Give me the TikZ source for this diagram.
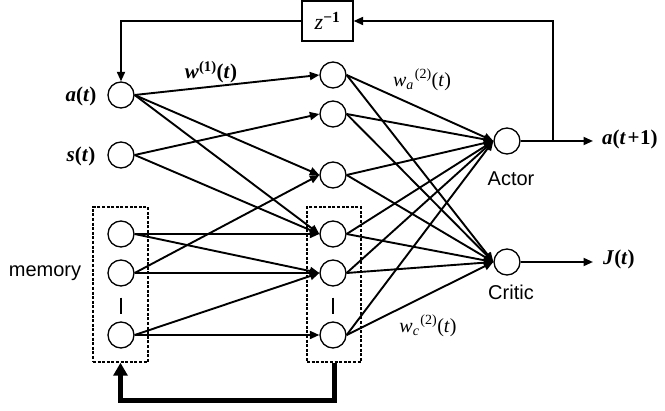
\documentclass[tikz,border=0pt]{standalone}
\usepackage{fontspec}
\setmainfont{Liberation Serif}
\newfontfamily\sansfam{Liberation Sans}
\usetikzlibrary{arrows.meta}

\tikzset{
  neuron/.style={circle, draw, line width=1.3pt, minimum size=26pt, inner sep=0pt, fill=white},
  conn/.style={line width=1.9pt, -{Triangle[length=9.5pt,width=8pt]}},
  groupbox/.style={draw, dashed, dash pattern=on 3pt off 1.6pt, line width=1.5pt, minimum height=155pt, inner sep=0pt},
  gap/.style={line width=1.7pt, shorten <=11pt, shorten >=7pt},
  serlab/.style={font=\fontsize{21}{24}\selectfont, inner sep=0pt},
  wlab/.style={font=\fontsize{20}{22}\selectfont, inner sep=0pt},
  sanslab/.style={font=\sansfam\fontsize{20}{22}\selectfont, inner sep=0pt},
  delaybox/.style={draw, line width=1.3pt, minimum width=51pt, minimum height=40pt, inner sep=0pt, font=\fontsize{22}{24}\selectfont},
  feedback/.style={line width=5pt, -{Triangle[length=13pt,width=14pt]}}
}

\begin{document}
\begin{tikzpicture}[x=1pt, y=-1pt]
  \useasboundingbox (0,0) rectangle (665,411);

  % dashed groups: memory cells and their hidden counterparts
  \node[groupbox, minimum width=55pt] (mbox) at (120.5,284.5) {};
  \node[groupbox, minimum width=54pt] (hbox) at (334,284.5) {};

  % input layer
  \node[neuron] (in0) at (121,95) {};
  \node[neuron] (in1) at (121,155) {};
  \node[neuron] (m1) at (121,234) {};
  \node[neuron] (m2) at (121,273) {};
  \node[neuron] (m3) at (121,335) {};

  % hidden layer
  \node[neuron] (h1) at (333,75) {};
  \node[neuron] (h2) at (333,114) {};
  \node[neuron] (h3) at (333,175) {};
  \node[neuron] (h4) at (333,234) {};
  \node[neuron] (h5) at (333,273) {};
  \node[neuron] (h6) at (333,335) {};

  % output layer
  \node[neuron] (actor) at (507,141) {};
  \node[neuron] (critic) at (507,262) {};

  % unit delay
  \node[delaybox] (z) at (327.5,21) {\textit{z}\textsuperscript{\textbf{−1}}};

  % labels
  \node[serlab] at (81,96) {\textbf{\textit{a}(\textit{t})}};
  \node[serlab] at (81,156) {\textbf{\textit{s}(\textit{t})}};
  \node[sanslab] at (45,273) {memory};
  \node[sanslab] at (511,179) {Actor};
  \node[sanslab] at (511,292) {Critic};
  \node[serlab, anchor=west] at (602,139) {\textbf{\textit{a}(\textit{t}\kern1.5pt+\kern0.5pt1)}};
  \node[serlab, anchor=west] at (603,259) {\textbf{\textit{J}(\textit{t})}};
  \node[wlab, font=\fontsize{21}{24}\selectfont] at (211,72) {\textbf{\textit{w}\textsuperscript{(1)}(\textit{t})}};
  \node[wlab] at (422,80) {\textit{w}\textsubscript{\textit{a}}\kern1pt\textsuperscript{(2)}(\textit{t})};
  \node[wlab] at (428,326) {\textit{w}\textsubscript{\textit{c}}\kern1pt\textsuperscript{(2)}(\textit{t})};

  % gaps between listed cells
  \draw[gap] (m2.south) -- (m3.north);
  \draw[gap] (h5.south) -- (h6.north);

  % input to hidden weights
  \draw[conn] (in0.east) -- (h1.west);
  \draw[conn] (in0.east) -- (h3.west);
  \draw[conn] (in0.east) -- (h4.west);
  \draw[conn] (in1.east) -- (h2.west);
  \draw[conn] (in1.east) -- (h4.west);
  \draw[conn] (m1.east) -- (h4.west);
  \draw[conn] (m1.east) -- (h5.west);
  \draw[conn] (m2.east) -- (h3.west);
  \draw[conn] (m2.east) -- (h5.west);
  \draw[conn] (m3.east) -- (h5.west);
  \draw[conn] (m3.east) -- (h6.west);

  % hidden to output weights
  \foreach \h in {h1,h2,h3,h4,h5,h6} {
    \draw[conn] (\h.east) -- (actor.west);
    \draw[conn] (\h.east) -- (critic.west);
  }

  % outputs
  \coordinate (aout) at (593,141);
  \coordinate (jout) at (593,262);
  \coordinate (tap) at (553,141);
  \draw[conn] (actor.east) -- (aout);
  \draw[conn] (critic.east) -- (jout);

  % action fed back through the delay
  \draw[conn] (tap) |- (z.east);
  \draw[conn] (z.west) -| (in0.north);

  % hidden state copied back into memory
  \draw[feedback] (hbox.south) -- ++(0,38) -| (mbox.south);
\end{tikzpicture}
\end{document}
